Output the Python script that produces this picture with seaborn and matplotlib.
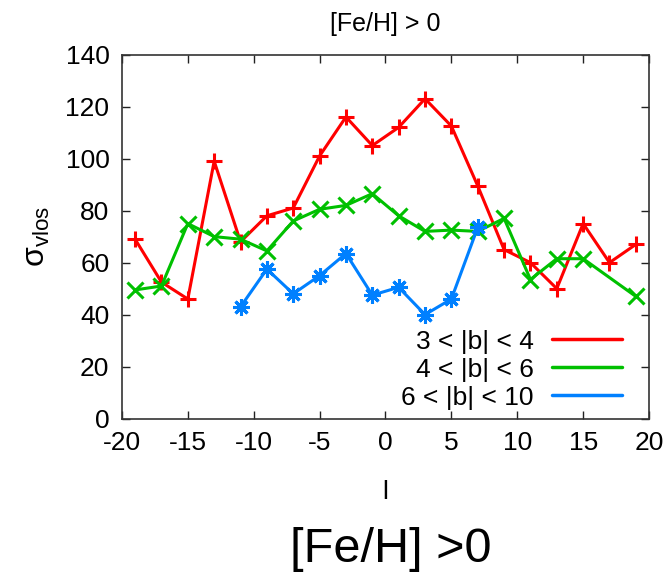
import matplotlib
matplotlib.use("Agg")
import matplotlib.pyplot as plt
from matplotlib.lines import Line2D
import seaborn as sns
import pandas as pd

sns.set_style("ticks")
plt.rcParams["font.family"] = ["Liberation Sans", "DejaVu Sans"]
plt.rcParams["mathtext.fontset"] = "custom"
plt.rcParams["mathtext.rm"] = "Liberation Sans"
plt.rcParams["mathtext.it"] = "Liberation Sans"
plt.rcParams["axes.unicode_minus"] = False
plt.rcParams["text.color"] = "black"
plt.rcParams["axes.labelcolor"] = "black"

# Galactic longitude bins and line-of-sight velocity dispersion per latitude strip
l_red = [-19, -17, -15, -13, -11, -9, -7, -5, -3, -1, 1, 3, 5, 7, 9, 11, 13, 15, 17, 19]
sig_red = [69, 52.5, 46, 99, 68, 78, 81, 101, 116, 105, 112, 123, 112.5, 89.5, 65, 60, 50, 75, 60, 67]

l_green = [-19, -17, -15, -13, -11, -9, -7, -5, -3, -1, 1, 3, 5, 7, 9, 11, 13, 15, 19]
sig_green = [49.5, 51, 75, 70, 69, 64.5, 76, 80.5, 82, 86.5, 78, 72, 72.5, 72, 77, 53.5, 61.5, 61.5, 47]

l_blue = [-11, -9, -7, -5, -3, -1, 1, 3, 5, 7]
sig_blue = [43, 57.5, 48, 55, 63.5, 47.5, 50.5, 40, 46, 73.5]

labels = ["3 < |b| < 4", "4 < |b| < 6", "6 < |b| < 10"]
colors = ["#ff0000", "#00c000", "#0080ff"]
markers = ["+", "x", (8, 2, 0)]

series = [(l_red, sig_red), (l_green, sig_green), (l_blue, sig_blue)]

fig = plt.figure(figsize=(6.7, 5.74), dpi=100)
ax = fig.add_axes([0.182, 0.2706, 0.7867, 0.6344])

for (lv, sv), c, m in zip(series, colors, markers):
    df = pd.DataFrame({"l": lv, "sigma": sv})
    sns.lineplot(data=df, x="l", y="sigma", ax=ax, color=c, marker=m,
                 markersize=12, markeredgewidth=2.2, markeredgecolor=c,
                 linewidth=2.2, legend=False)

ax.set_xlim(-20, 20)
ax.set_ylim(0, 140)
ax.set_xticks(range(-20, 21, 5))
ax.set_yticks(range(0, 141, 20))
ax.tick_params(direction="in", length=6, width=1, top=True, right=True,
               labelsize=19, pad=9, colors="#222222", labelcolor="black")
for s in ax.spines.values():
    s.set_linewidth(1.2)
    s.set_color("#333333")

ax.set_xlabel("l", fontsize=19, labelpad=18)
ax.set_ylabel(r"$\mathrm{σ}_{\mathrm{vlos}}$", fontsize=23, labelpad=10)
ax.set_title("[Fe/H] > 0", fontsize=18, pad=17)

handles = [Line2D([0], [0], color=c, lw=2.5) for c in colors]
ax.legend(handles, labels, loc="lower right", bbox_to_anchor=(0.949, 0.025),
          frameon=False, markerfirst=False, fontsize=19, handlelength=2.65,
          handletextpad=0.7, labelspacing=0.15, borderaxespad=0.0, borderpad=0.0)

fig.text(0.583, 0.042, "[Fe/H] >0", fontsize=35, ha="center", va="center")

fig.savefig("out.png", dpi=100, facecolor="white")
